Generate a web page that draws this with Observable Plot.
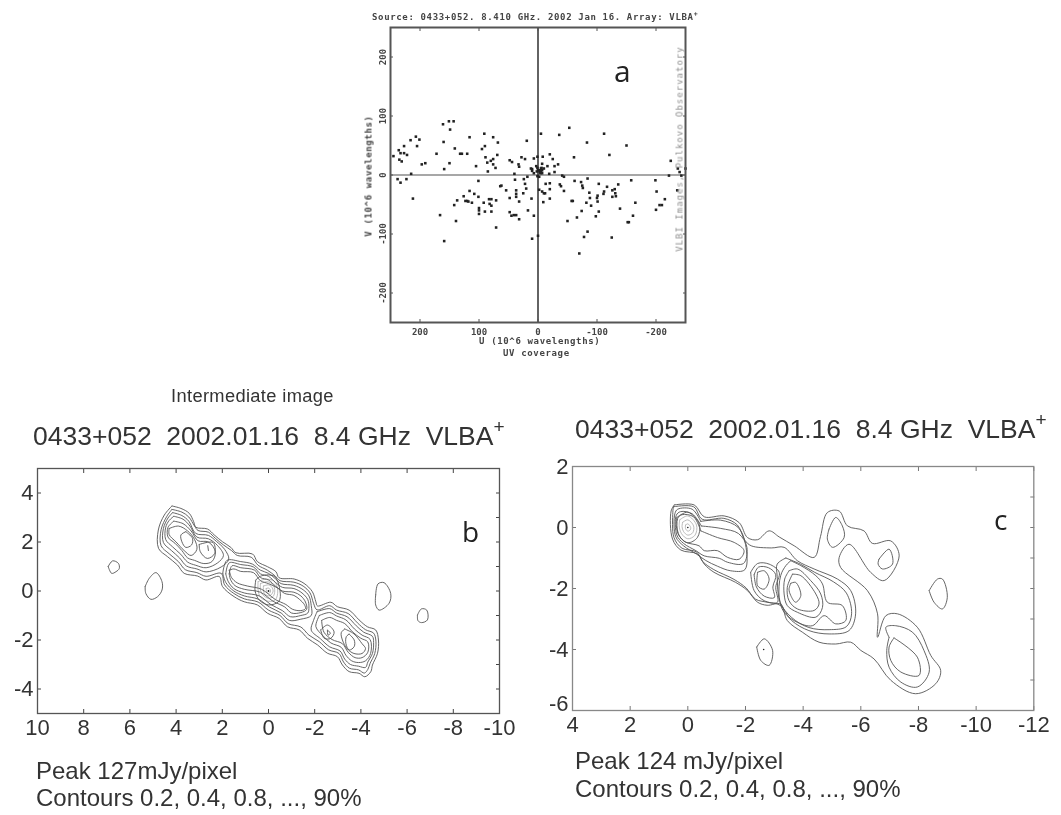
<!DOCTYPE html>
<html><head><meta charset="utf-8">
<script src="https://cdn.jsdelivr.net/npm/d3@7"></script>
<script src="https://cdn.jsdelivr.net/npm/@observablehq/plot@0.6"></script>
<style>
html,body{margin:0;padding:0;background:#fff;}
#page{position:relative;width:1061px;height:815px;overflow:hidden;font-family:"Liberation Sans",sans-serif;color:#333;}
.t{position:absolute;white-space:pre;line-height:1;filter:blur(.3px);}
.t sup{font-size:.72em;line-height:0;vertical-align:.62em;}
</style></head><body><div id="page"></div>
<script>
// ---------- Panel a : UV coverage ----------
const uvU = [245,236,233,227,222,235,231,227,216,207,201,205,197,191,215,238,233,223,212,161,151,143,149,160,141,172,132,129,120,150,159,116,91,76,68,90,95,89,69,76,80,86,76,72,105,85,19,-5,-36,-53,-112,-150,-83,-121,-61,-225,-222,-237,-240,-243,-250,-236,-199,-201,-165,-158,-136,-130,-126,-131,-126,-132,-112,-111,-117,-103,-101,-100,-101,-84,-73,-75,-62,-76,-87,-88,-82,-90,-57,-59,-44,-37,-39,-41,-44,-20,-13,-20,-10,-12,-7,-2,-20,-9,142,137,123,120,118,112,126,116,108,101,101,92,100,100,100,90,79,82,79,83,79,71,166,139,159,71,62,64,54,48,39,37,37,37,32,24,22,25,20,11,48,45,41,37,32,17,7,10,0,-70,-78,-84,-125,-66,-50,-74,-98,-103,-139,-152,-154,-161,-200,-206,-210,-215,48,44,33,32,40,28,22,7,1,-8,-20,-25,-34,-28,-7,-16,12,10,7,3,1,-5,-7,-10,-3,-7,-19,-28,-2,1,18,10,-3,-5,-6,0,2,-4];
const uvV = [32,42,37,37,34,26,23,49,59,65,60,49,18,20,2,-7,-13,-7,-40,86,91,91,77,56,45,36,36,36,36,20,10,64,70,64,55,49,44,30,34,27,24,21,18,12,15,6,58,70,68,80,70,50,55,34,30,24,-1,11,5,-1,11,-26,-9,-28,-47,-9,-16,-24,-26,-31,-37,-36,-28,-32,-20,-15,-35,-39,-45,-6,-12,-18,-10,-22,-30,-39,-47,-52,-44,-44,-27,-16,-19,-1,-3,-14,-15,-24,-31,-31,-28,-25,-40,-46,-51,-43,-44,-44,-45,-47,-36,-27,-32,-37,-10,-47,-56,-60,-66,-62,-62,-49,-52,-41,-41,-43,-68,-78,-112,-89,-18,-19,-26,-39,-8,-26,-32,-37,-45,-7,-15,-31,-23,-40,-63,-69,-68,-68,-75,-60,-69,-108,-103,-133,-105,-96,-106,-72,-78,-61,-70,-62,-57,-80,-80,-69,-59,-51,-51,-41,25,22,18,14,2,30,27,28,31,31,35,27,18,15,19,15,11,10,3,15,12,11,8,11,5,3,2,5,-3,-2,-3,7,8,6,12,8,6,3];
const aTicks = [-200,-100,0,100,200];

// ---------- Panel b : intermediate image contours ----------
const bOuter1 = [[4.18,3.47],[3.79,3.37],[3.43,3.17],[3.24,2.83],[3.14,2.6],[2.64,2.53],[2.35,2.29],[1.99,2.01],[1.63,1.78],[1.41,1.56],[0.69,1.51],[0.48,1.2],[0.04,0.99],[-0.32,0.79],[-0.46,0.54],[-1.11,0.49],[-1.54,0.31],[-1.9,-0.03],[-2.05,-0.44],[-2.12,-0.61],[-2.7,-0.46],[-2.98,-0.64],[-3.49,-0.78],[-3.92,-1.18],[-4.28,-1.46],[-4.64,-1.59],[-4.76,-2],[-4.72,-2.54],[-4.5,-3.02],[-4.43,-3.29],[-4.17,-3.5],[-3.92,-3.36],[-3.49,-3.29],[-3.2,-3.02],[-2.98,-2.68],[-2.55,-2.54],[-2.12,-2.2],[-1.69,-1.93],[-1.33,-1.59],[-0.82,-1.46],[-0.46,-1.12],[0.04,-0.91],[0.48,-0.57],[1.05,-0.44],[1.49,-0.23],[1.99,0.18],[2.13,0.59],[2.71,0.45],[3.07,0.61],[3.65,0.72],[3.94,1.06],[4.37,1.4],[4.76,1.74],[4.77,2.49],[4.51,3.1],[4.18,3.47]];
const bOuter2 = [[4.18,3.33],[3.75,3.22],[3.45,3.02],[3.2,2.65],[3.05,2.47],[2.6,2.4],[2.3,2.15],[1.95,1.88],[1.6,1.65],[1.35,1.45],[0.75,1.38],[0.45,1.05],[0.05,0.85],[-0.28,0.62],[-0.5,0.42],[-1.1,0.36],[-1.5,0.2],[-1.8,-0.08],[-1.95,-0.5],[-2.1,-0.77],[-2.65,-0.6],[-2.95,-0.78],[-3.45,-0.92],[-3.85,-1.3],[-4.2,-1.58],[-4.55,-1.72],[-4.65,-2.05],[-4.6,-2.55],[-4.4,-2.95],[-4.3,-3.2],[-4.15,-3.35],[-3.9,-3.22],[-3.5,-3.15],[-3.25,-2.9],[-3.05,-2.55],[-2.6,-2.4],[-2.2,-2.07],[-1.75,-1.8],[-1.4,-1.47],[-0.85,-1.33],[-0.5,-1],[0,-0.78],[0.45,-0.45],[1.05,-0.32],[1.5,-0.1],[1.9,0.25],[2.05,0.72],[2.7,0.6],[3.1,0.75],[3.6,0.87],[3.9,1.2],[4.3,1.52],[4.65,1.85],[4.65,2.5],[4.4,3.05],[4.18,3.33]];
const bLeft3 = [[4.15,3.2],[3.75,3.08],[3.45,2.85],[3.15,2.35],[2.6,2.27],[2.25,2.02],[1.9,1.7],[1.72,1.3],[2.05,0.98],[2.7,0.78],[3.1,0.9],[3.55,1.02],[3.85,1.35],[4.2,1.65],[4.55,1.98],[4.55,2.55],[4.35,2.98],[4.15,3.2]];
const bLeft4 = [[4.1,3.05],[3.7,2.93],[3.4,2.65],[3.1,2.2],[2.6,2.13],[2.2,1.85],[1.95,1.45],[2.2,1.15],[2.7,0.95],[3.15,1.05],[3.5,1.18],[3.8,1.5],[4.15,1.8],[4.45,2.1],[4.45,2.6],[4.3,2.88],[4.1,3.05]];
const bLeft5 = [[4.1,2.85],[3.7,2.75],[3.35,2.45],[3.05,2.05],[2.6,2],[2.3,1.6],[2.45,1.2],[2.8,1.12],[3.2,1.25],[3.5,1.35],[3.75,1.65],[4.05,1.95],[4.35,2.2],[4.35,2.6],[4.1,2.85]];
const bLeft6 = [[4.3,2.55],[3.9,2.65],[3.5,2.45],[3.2,2.1],[3.1,1.7],[3.35,1.45],[3.65,1.65],[4,2],[4.3,2.3],[4.3,2.55]];
const bLeftPeak = [[3.58,2.42],[3.29,2.15],[3.33,1.88],[3.58,1.78],[3.75,2.01],[3.79,2.29],[3.58,2.42]];
const bKnot = [[3,1.9],[2.4,1.98],[2.33,1.53],[2.65,1.33],[2.95,1.6],[3,1.9]];
const bKnotTip = [[2.63,1.85],[2.6,1.65]];
const bMid3 = [[1.98,0.72],[1.8,1.25],[1.2,1.2],[0.7,1.1],[0.35,0.85],[0,0.72],[-0.3,0.5],[-0.55,0.3],[-1.1,0.23],[-1.5,0.05],[-1.75,-0.2],[-1.85,-0.6],[-1.85,-1],[-1.4,-1.15],[-0.9,-1.2],[-0.55,-0.9],[-0.05,-0.66],[0.45,-0.33],[1.05,-0.2],[1.5,0],[1.85,0.35],[1.98,0.72]];
const bMid4 = [[1.85,0.7],[1.7,1.15],[1.2,1.08],[0.65,0.98],[0.35,0.7],[0,0.6],[-0.3,0.35],[-0.6,0.15],[-1.1,0.1],[-1.45,-0.08],[-1.7,-0.35],[-1.75,-0.65],[-1.7,-0.9],[-1.4,-1],[-0.95,-1.05],[-0.6,-0.8],[-0.1,-0.55],[0.4,-0.2],[1.05,-0.08],[1.5,0.1],[1.75,0.4],[1.85,0.7]];
const bMid5 = [[1.7,0.7],[1.58,1.03],[1.2,0.95],[0.6,0.85],[0.35,0.55],[0,0.45],[-0.3,0.2],[-0.6,0],[-1.1,-0.05],[-1.4,-0.2],[-1.6,-0.45],[-1.65,-0.75],[-1.4,-0.88],[-1,-0.9],[-0.7,-0.65],[-0.2,-0.42],[0.35,-0.05],[1.05,0.07],[1.45,0.22],[1.65,0.48],[1.7,0.7]];
const bMid6 = [[1.7,0.85],[1.5,0.9],[1.2,0.8],[0.65,0.75],[0.35,0.42],[0,0.3],[-0.4,0.12],[-0.7,-0.1],[-1.1,-0.18],[-1.35,-0.35],[-1.55,-0.55],[-1.6,-0.72],[-1.4,-0.8],[-1.05,-0.75],[-0.75,-0.55],[-0.3,-0.35],[0.3,0.07],[0.9,0.2],[1.35,0.33],[1.6,0.55],[1.7,0.85]];
const bCore1 = [[0.55,0.45],[0.3,0.62],[-0.25,0.6],[-0.5,0],[-0.45,-0.42],[0,-0.57],[0.4,-0.37],[0.58,0],[0.55,0.45]];
const bCore2 = [[0.45,0.38],[0.15,0.48],[-0.25,0.4],[-0.4,0],[-0.3,-0.35],[0,-0.42],[0.35,-0.25],[0.45,0.05],[0.45,0.38]];
const bCore3 = [[0.35,0.3],[0.05,0.38],[-0.2,0.25],[-0.27,0],[-0.2,-0.22],[0,-0.3],[0.25,-0.15],[0.35,0.05],[0.35,0.3]];
const bCore4 = [[0.22,0.2],[0,0.25],[-0.15,0.15],[-0.2,0],[-0.12,-0.15],[0,-0.2],[0.18,-0.1],[0.22,0.03],[0.22,0.2]];
const bCore5 = [[0.1,0.1],[0,0.12],[-0.08,0.05],[-0.08,-0.05],[0,-0.1],[0.08,-0.03],[0.1,0.1]];
const bRight3 = [[-2.1,-0.85],[-2.65,-0.72],[-2.95,-0.9],[-3.4,-1.05],[-3.8,-1.42],[-4.12,-1.68],[-4.5,-1.85],[-4.55,-2.1],[-4.5,-2.55],[-4.3,-2.9],[-4.2,-3.12],[-3.9,-3.07],[-3.55,-3],[-3.3,-2.78],[-3.1,-2.45],[-2.65,-2.28],[-2.25,-1.95],[-1.85,-1.6],[-1.95,-1.2],[-2.1,-0.85]];
const bRight4 = [[-2.2,-1],[-2.65,-0.88],[-2.95,-1.02],[-3.35,-1.18],[-3.72,-1.55],[-4.05,-1.8],[-4.4,-1.98],[-4.42,-2.55],[-4.2,-2.85],[-3.9,-2.92],[-3.6,-2.85],[-3.35,-2.62],[-3.15,-2.3],[-2.7,-2.12],[-2.35,-1.82],[-2.05,-1.45],[-2.2,-1]];
const bRight5 = [[-2.3,-1.2],[-2.65,-1.08],[-2.95,-1.2],[-3.3,-1.33],[-3.65,-1.68],[-4,-1.93],[-4.3,-2.08],[-4.3,-2.5],[-4.05,-2.72],[-3.75,-2.72],[-3.45,-2.5],[-3.2,-2.15],[-2.75,-1.98],[-2.4,-1.68],[-2.3,-1.2]];
const bRight6 = [[-3.3,-1.55],[-3.7,-1.75],[-4.05,-2.15],[-4.2,-2.35],[-4.05,-2.55],[-3.7,-2.55],[-3.4,-2.35],[-3.2,-2],[-3.15,-1.7],[-3.3,-1.55]];
const bRightKnot = [[-2.26,-1.59],[-2.55,-1.39],[-2.84,-1.67],[-2.7,-1.93],[-2.41,-1.93],[-2.26,-1.59]];
const bRightTip = [[-2.55,-1.6],[-2.68,-1.72],[-2.58,-1.8],[-2.55,-1.6]];
const bRightPeak = [[-3.49,-1.76],[-3.71,-2],[-3.71,-2.27],[-3.49,-2.41],[-3.35,-2.14],[-3.37,-1.86],[-3.49,-1.76]];
const bIsoA = [[6.94,1],[6.75,1.23],[6.5,1.13],[6.46,0.92],[6.6,0.79],[6.79,0.72],[6.94,1]];
const bIsoB = [[5.34,0.18],[5.16,0.52],[4.87,0.75],[4.61,0.38],[4.61,0.04],[4.8,-0.23],[5.09,-0.34],[5.31,-0.1],[5.34,0.18]];
const bIsoC = [[-4.64,-0.16],[-4.74,0.29],[-5,0.34],[-5.29,-0.1],[-5.22,-0.5],[-4.79,-0.78],[-4.64,-0.57],[-4.64,-0.16]];
const bIsoD = [[-6.45,-0.98],[-6.62,-0.73],[-6.85,-0.78],[-6.88,-1.18],[-6.62,-1.29],[-6.47,-1.21],[-6.45,-0.98]];
const bDark = [bOuter1,bOuter2,bLeft3,bLeft4,bLeft5,bLeft6,bLeftPeak,bKnot,bKnotTip,bMid3,bMid4,bMid5,bMid6,bRight3,bRight4,bRight5,bRight6,bRightKnot,bRightTip,bRightPeak,bIsoA,bIsoB,bIsoC,bIsoD,bCore1];
const bLight = [bCore2,bCore3,bCore4,bCore5];
const xTicksB = [10,8,6,4,2,0,-2,-4,-6,-8,-10];
const yLabelsB = [-4,-2,0,2,4];
const yMinorB = [-4,-3,-2,-1,0,1,2,3,4];

// ---------- Panel c : final image contours ----------
const cOuter = [[0.47,0.74],[-0.22,0.74],[-0.57,0.35],[-1.26,0.38],[-1.78,0.16],[-2.07,-0.33],[-2.42,-0.4],[-2.82,-0.11],[-3.17,-0.31],[-3.69,-0.6],[-4.38,-0.98],[-4.6,-0.3],[-4.84,0.49],[-5.25,0.54],[-5.54,0.05],[-6.11,-0.11],[-6.4,-0.52],[-7.04,-0.44],[-7.33,-0.93],[-6.81,-1.74],[-6.34,-1.47],[-5.59,-0.55],[-5.25,-0.98],[-5.3,-1.31],[-6.23,-2.07],[-6.58,-2.83],[-6.58,-3.6],[-6.87,-2.89],[-7.27,-2.83],[-7.96,-3.27],[-8.43,-4.2],[-8.77,-4.69],[-8.6,-5.12],[-7.9,-5.45],[-7.04,-5.01],[-6.46,-4.31],[-6,-4.03],[-5.65,-3.76],[-5.13,-3.82],[-4.55,-3.76],[-3.97,-3.43],[-3.45,-3.05],[-3.22,-2.51],[-2.75,-2.55],[-2.42,-2.45],[-2.07,-2.07],[-1.66,-1.8],[-0.91,-1.47],[-0.57,-1.2],[-0.34,-0.87],[0.24,-0.74],[0.53,-0.38],[0.58,0.54],[0.47,0.74]];
const cBlob2 = [[0.5,0.68],[-0.2,0.68],[-0.5,0.27],[-1.25,0.3],[-1.72,0.08],[-1.98,-0.42],[-2.2,-0.6],[-2.9,-0.67],[-3.34,-0.65],[-3.8,-1.09],[-4.38,-1.36],[-5.19,-1.69],[-5.65,-2.07],[-5.82,-2.83],[-5.59,-3.38],[-4.9,-3.49],[-4.2,-3.38],[-3.6,-3.05],[-3.2,-2.55],[-2.75,-2.45],[-2.35,-2.35],[-2.02,-1.98],[-1.6,-1.7],[-0.9,-1.38],[-0.52,-1.12],[-0.3,-0.8],[0.2,-0.68],[0.48,-0.33],[0.52,0.5],[0.5,0.68]];
const cBlob3 = [[-3.4,-1],[-3.9,-1.2],[-4.4,-1.47],[-5.05,-1.78],[-5.5,-2.15],[-5.68,-2.83],[-5.5,-3.25],[-4.9,-3.35],[-4.2,-3.28],[-3.6,-2.95],[-3.2,-2.45],[-3.1,-1.6],[-3.1,-1.2],[-3.4,-1]];
const cBlob4 = [[-3.57,-1.09],[-3.92,-1.25],[-4.44,-1.58],[-4.67,-1.85],[-4.84,-2.45],[-5.36,-2.56],[-5.48,-3.05],[-5.13,-3.16],[-4.73,-2.89],[-4.32,-3.22],[-3.8,-3.11],[-3.34,-2.78],[-3.17,-2.29],[-3.22,-1.58],[-3.4,-1.25],[-3.57,-1.09]];
const cBlob5 = [[-3.51,-1.42],[-3.8,-1.36],[-4.26,-1.74],[-4.61,-2.18],[-4.67,-2.62],[-4.44,-2.94],[-3.8,-2.78],[-3.45,-2.56],[-3.34,-2.18],[-3.36,-1.69],[-3.51,-1.42]];
const cBlob6 = [[-3.63,-1.53],[-3.92,-1.58],[-4.44,-2.18],[-4.55,-2.51],[-4.38,-2.72],[-3.8,-2.67],[-3.51,-2.4],[-3.45,-1.96],[-3.63,-1.53]];
const cBlobPeak = [[-3.57,-1.83],[-3.74,-1.8],[-3.92,-2.23],[-3.74,-2.45],[-3.57,-2.23],[-3.51,-2.02],[-3.57,-1.83]];
const cKnotA = [[-2.18,-1.47],[-2.42,-1.18],[-2.82,-1.2],[-3.17,-1.47],[-3.05,-1.96],[-3.11,-2.45],[-2.65,-2.4],[-2.3,-2.07],[-2.18,-1.47]];
const cKnotB = [[-2.3,-1.55],[-2.45,-1.3],[-2.8,-1.32],[-3.05,-1.55],[-2.95,-1.95],[-3,-2.3],[-2.65,-2.25],[-2.38,-1.95],[-2.3,-1.55]];
const cKnotC = [[-2.42,-1.47],[-2.65,-1.42],[-2.82,-1.69],[-2.65,-2.02],[-2.42,-1.91],[-2.42,-1.47]];
const cJet3 = [[-0.45,0.2],[-1.14,0.24],[-1.75,0],[-2,-0.55],[-1.98,-1.38],[-1.49,-1.42],[-1.03,-1.27],[-0.62,-1.08],[-0.3,-0.87],[0.15,-0.6],[0.42,-0.3],[0.45,0.45],[0.35,0.6],[-0.15,0.6],[-0.45,0.2]];
const cJet2 = [[-0.47,0.05],[-1.14,-0.03],[-1.76,-0.2],[-2.05,-0.65],[-1.93,-1.18],[-1.38,-1.14],[-1.09,-1.01],[-0.57,-0.93],[-0.28,-0.76],[0.15,-0.52],[0.38,-0.25],[0.4,0.4],[0.25,0.52],[-0.15,0.45],[-0.47,0.05]];
const cJet1 = [[-0.45,-0.11],[-1.03,-0.33],[-1.61,-0.49],[-1.95,-0.76],[-1.78,-1.04],[-1.38,-0.98],[-1.03,-0.76],[-0.57,-0.76],[-0.39,-0.6],[0.1,-0.47],[0.33,-0.2],[0.35,0.3],[0.2,0.42],[-0.2,0.35],[-0.45,-0.11]];
const cCore1 = [[0.38,0.33],[0,0.5],[-0.4,0.1],[-0.33,-0.33],[0,-0.5],[0.3,-0.27],[0.4,0.05],[0.38,0.33]];
const cCore2 = [[0.28,0.25],[0,0.38],[-0.3,0.08],[-0.25,-0.25],[0,-0.37],[0.22,-0.2],[0.3,0.05],[0.28,0.25]];
const cCore3 = [[0.18,0.17],[0,0.25],[-0.2,0.05],[-0.17,-0.17],[0,-0.25],[0.15,-0.13],[0.2,0.03],[0.18,0.17]];
const cCore4 = [[0.08,0.08],[0,0.12],[-0.1,0],[-0.08,-0.08],[0,-0.12],[0.08,-0.03],[0.08,0.08]];
const cLobe2 = [[-6.98,-3.6],[-6.87,-3.27],[-7.21,-3.22],[-7.79,-3.43],[-8.19,-4.03],[-8.37,-4.74],[-7.96,-5.23],[-7.39,-5.07],[-6.98,-4.58],[-6.9,-4.03],[-6.98,-3.6]];
const cLobe3 = [[-7.15,-3.62],[-7.96,-4.25],[-8.02,-4.85],[-7.39,-4.74],[-7.04,-4.36],[-6.98,-3.92],[-7.15,-3.62]];
const cIsoA = [[-4.9,-0.05],[-5.13,0.33],[-5.36,0.05],[-5.42,-0.33],[-5.02,-0.65],[-4.84,-0.38],[-4.9,-0.05]];
const cIsoB = [[-6.63,-1.04],[-6.98,-0.71],[-7.1,-1.2],[-6.75,-1.36],[-6.6,-1.2],[-6.63,-1.04]];
const cIsoC = [[-8.37,-2.07],[-8.66,-1.69],[-8.83,-1.69],[-9,-2.29],[-8.83,-2.67],[-8.54,-2.45],[-8.37,-2.07]];
const cIsoD = [[-2.39,-3.92],[-2.65,-3.65],[-2.94,-4.03],[-2.82,-4.52],[-2.53,-4.36],[-2.39,-3.92]];
const cDark = [cOuter,cBlob2,cBlob3,cBlob4,cBlob5,cBlob6,cBlobPeak,cKnotA,cKnotB,cKnotC,cJet3,cJet2,cJet1,cLobe2,cLobe3,cIsoA,cIsoB,cIsoC,cIsoD,cCore1];
const cLight = [cCore2,cCore3,cCore4];
const cDots = [[-2.63,-4.0]];
const xTicksC = [4,2,0,-2,-4,-6,-8,-10,-12];
const yLabelsC = [-4,-2,0,2];
const yLabelsCBottom = [-6];
const yMinorC = [-5,-4,-3,-2,-1,0,1];

// ---------- Text ----------
const titleA = "Source: 0433+052. 8.410 GHz. 2002 Jan 16. Array: VLBA";
const titleMain = "0433+052  2002.01.16  8.4 GHz  VLBA";

const page = document.getElementById("page");
const flat = (list) => list.flatMap((c,i)=>c.map(([x,y])=>({x,y,id:i})));
const fmt = d => String(d);
const mono = {fontFamily:"'DejaVu Sans Mono',monospace",fontWeight:"bold",fontSize:"9px",letterSpacing:".65px",color:"#444"};
function add(el,left,top){el.style.position="absolute";el.style.left=left+"px";el.style.top=top+"px";page.appendChild(el);}
function label(html,left,top,css){const d=document.createElement("div");d.className="t";d.innerHTML=html;d.style.left=left+"px";d.style.top=top+"px";if(css)Object.assign(d.style,css);page.appendChild(d);}

// Panel a
const pa = Plot.plot({
  width:350,height:370,marginLeft:40,marginRight:15,marginTop:27,marginBottom:48,
  x:{domain:[250,-250]},y:{domain:[-250,250]},
  style:{background:"transparent",color:"#444",filter:"blur(.35px)",fontFamily:"'DejaVu Sans Mono',monospace",fontSize:"9px",fontWeight:"bold"},
  marks:[
    Plot.ruleY([0],{stroke:"#8a8a8a",strokeWidth:1.4}),
    Plot.ruleX([0],{stroke:"#222",strokeWidth:1.4}),
    Plot.dot(uvU.map((u,i)=>({u,v:uvV[i]})),{x:"u",y:"v",symbol:"square",r:1.45,fill:"#222",stroke:"none"}),
    Plot.axisX({anchor:"bottom",ticks:aTicks,tickSize:-3,tickPadding:9,tickFormat:fmt,label:null,stroke:"#555"}),
    Plot.axisX({anchor:"top",ticks:aTicks,tickSize:-3,fill:"none",label:null,stroke:"#555"}),
    Plot.axisY({anchor:"left",ticks:aTicks,tickSize:-3,tickPadding:8,tickRotate:-90,tickFormat:fmt,label:null,stroke:"#555"}),
    Plot.axisY({anchor:"right",ticks:aTicks,tickSize:-3,fill:"none",label:null,stroke:"#555"}),
    Plot.frame({stroke:"#555",strokeWidth:2})
  ]
});
add(pa,350,0);
label(titleA+"<sup>+</sup>",372,13,mono);
label("U (10^6 wavelengths)",479,337,mono);
label("UV coverage",503,349,mono);
label("V (10^6 wavelengths)",369,176,{...mono,transform:"translate(-50%,-50%) rotate(-90deg)"});
label("VLBI Images, Pulkovo Observatory",680,149,{...mono,fontWeight:"normal",letterSpacing:"1px",color:"#8f8f8f",transform:"translate(-50%,-50%) rotate(-90deg)"});
label("a",614,56,{fontFamily:"'Open Sans',sans-serif",fontSize:"30px",color:"#222"});

// Panel b
const pb = Plot.plot({
  width:530,height:315,marginLeft:37,marginRight:31,marginTop:28,marginBottom:42,
  x:{domain:[10,-10]},y:{domain:[-5,5]},
  style:{background:"transparent",color:"#333",filter:"blur(.3px)",fontFamily:"'Liberation Sans',sans-serif",fontSize:"22px"},
  marks:[
    Plot.line(flat(bLight),{x:"x",y:"y",z:"id",stroke:"#aaa",strokeWidth:.8,curve:"catmull-rom"}),
    Plot.line(flat(bDark),{x:"x",y:"y",z:"id",stroke:"#555",strokeWidth:.9,curve:"catmull-rom"}),
    Plot.dot([[0,0]],{x:d=>d[0],y:d=>d[1],r:.9,fill:"#222"}),
    Plot.axisX({anchor:"bottom",ticks:xTicksB,tickSize:-4,tickPadding:10,tickFormat:fmt,label:null,stroke:"#444"}),
    Plot.axisX({anchor:"top",ticks:xTicksB,tickSize:-4,fill:"none",label:null,stroke:"#444"}),
    Plot.axisY({anchor:"left",ticks:yLabelsB,tickSize:-4,tickPadding:8,tickFormat:fmt,label:null,stroke:"#444"}),
    Plot.axisY({anchor:"right",ticks:yMinorB,tickSize:-4,fill:"none",label:null,stroke:"#444"}),
    Plot.frame({stroke:"#555",strokeWidth:1.3})
  ]
});
add(pb,0,440);
label("Intermediate image",171,387,{fontSize:"18.3px",letterSpacing:".35px"});
label(titleMain+"<sup>+</sup>",33,423,{fontSize:"26.5px"});
label("Peak 127mJy/pixel",36,758.5,{fontSize:"24px"});
label("Contours 0.2, 0.4, 0.8, ..., 90%",36,785.5,{fontSize:"24px"});
label("b",462,517,{fontFamily:"'Open Sans',sans-serif",fontSize:"28px",color:"#222"});

// Panel c
const pc = Plot.plot({
  width:531,height:315,marginLeft:42,marginRight:27.7,marginTop:26,marginBottom:45,
  x:{domain:[4,-12]},y:{domain:[-6,2]},
  style:{background:"transparent",color:"#333",filter:"blur(.3px)",fontFamily:"'Liberation Sans',sans-serif",fontSize:"22px"},
  marks:[
    Plot.line(flat(cLight),{x:"x",y:"y",z:"id",stroke:"#aaa",strokeWidth:.8,curve:"catmull-rom"}),
    Plot.line(flat(cDark),{x:"x",y:"y",z:"id",stroke:"#555",strokeWidth:.9,curve:"catmull-rom"}),
    Plot.dot([[0,0],...cDots],{x:d=>d[0],y:d=>d[1],r:.8,fill:"#222"}),
    Plot.axisX({anchor:"bottom",ticks:xTicksC,tickSize:-4,tickPadding:10,tickFormat:fmt,label:null,stroke:"#777"}),
    Plot.axisX({anchor:"top",ticks:xTicksC,tickSize:-4,fill:"none",label:null,stroke:"#777"}),
    Plot.axisY({anchor:"left",ticks:yLabelsC,tickSize:-4,tickPadding:8,tickFormat:fmt,label:null,stroke:"#777"}),
    Plot.axisY({anchor:"left",ticks:yLabelsCBottom,tickSize:0,tickPadding:4,dy:-7,tickFormat:fmt,label:null}),
    Plot.axisY({anchor:"right",ticks:yMinorC,tickSize:-4,fill:"none",label:null,stroke:"#777"}),
    Plot.frame({stroke:"#888",strokeWidth:1.3})
  ]
});
add(pc,530,440);
label(titleMain+"<sup>+</sup>",575,416,{fontSize:"26.5px"});
label("Peak 124 mJy/pixel",575,748.5,{fontSize:"24px"});
label("Contours 0.2, 0.4, 0.8, ..., 90%",575,776.5,{fontSize:"24px"});
label("c",994,505,{fontFamily:"'Open Sans',sans-serif",fontSize:"28px",color:"#222"});
</script></body></html>
